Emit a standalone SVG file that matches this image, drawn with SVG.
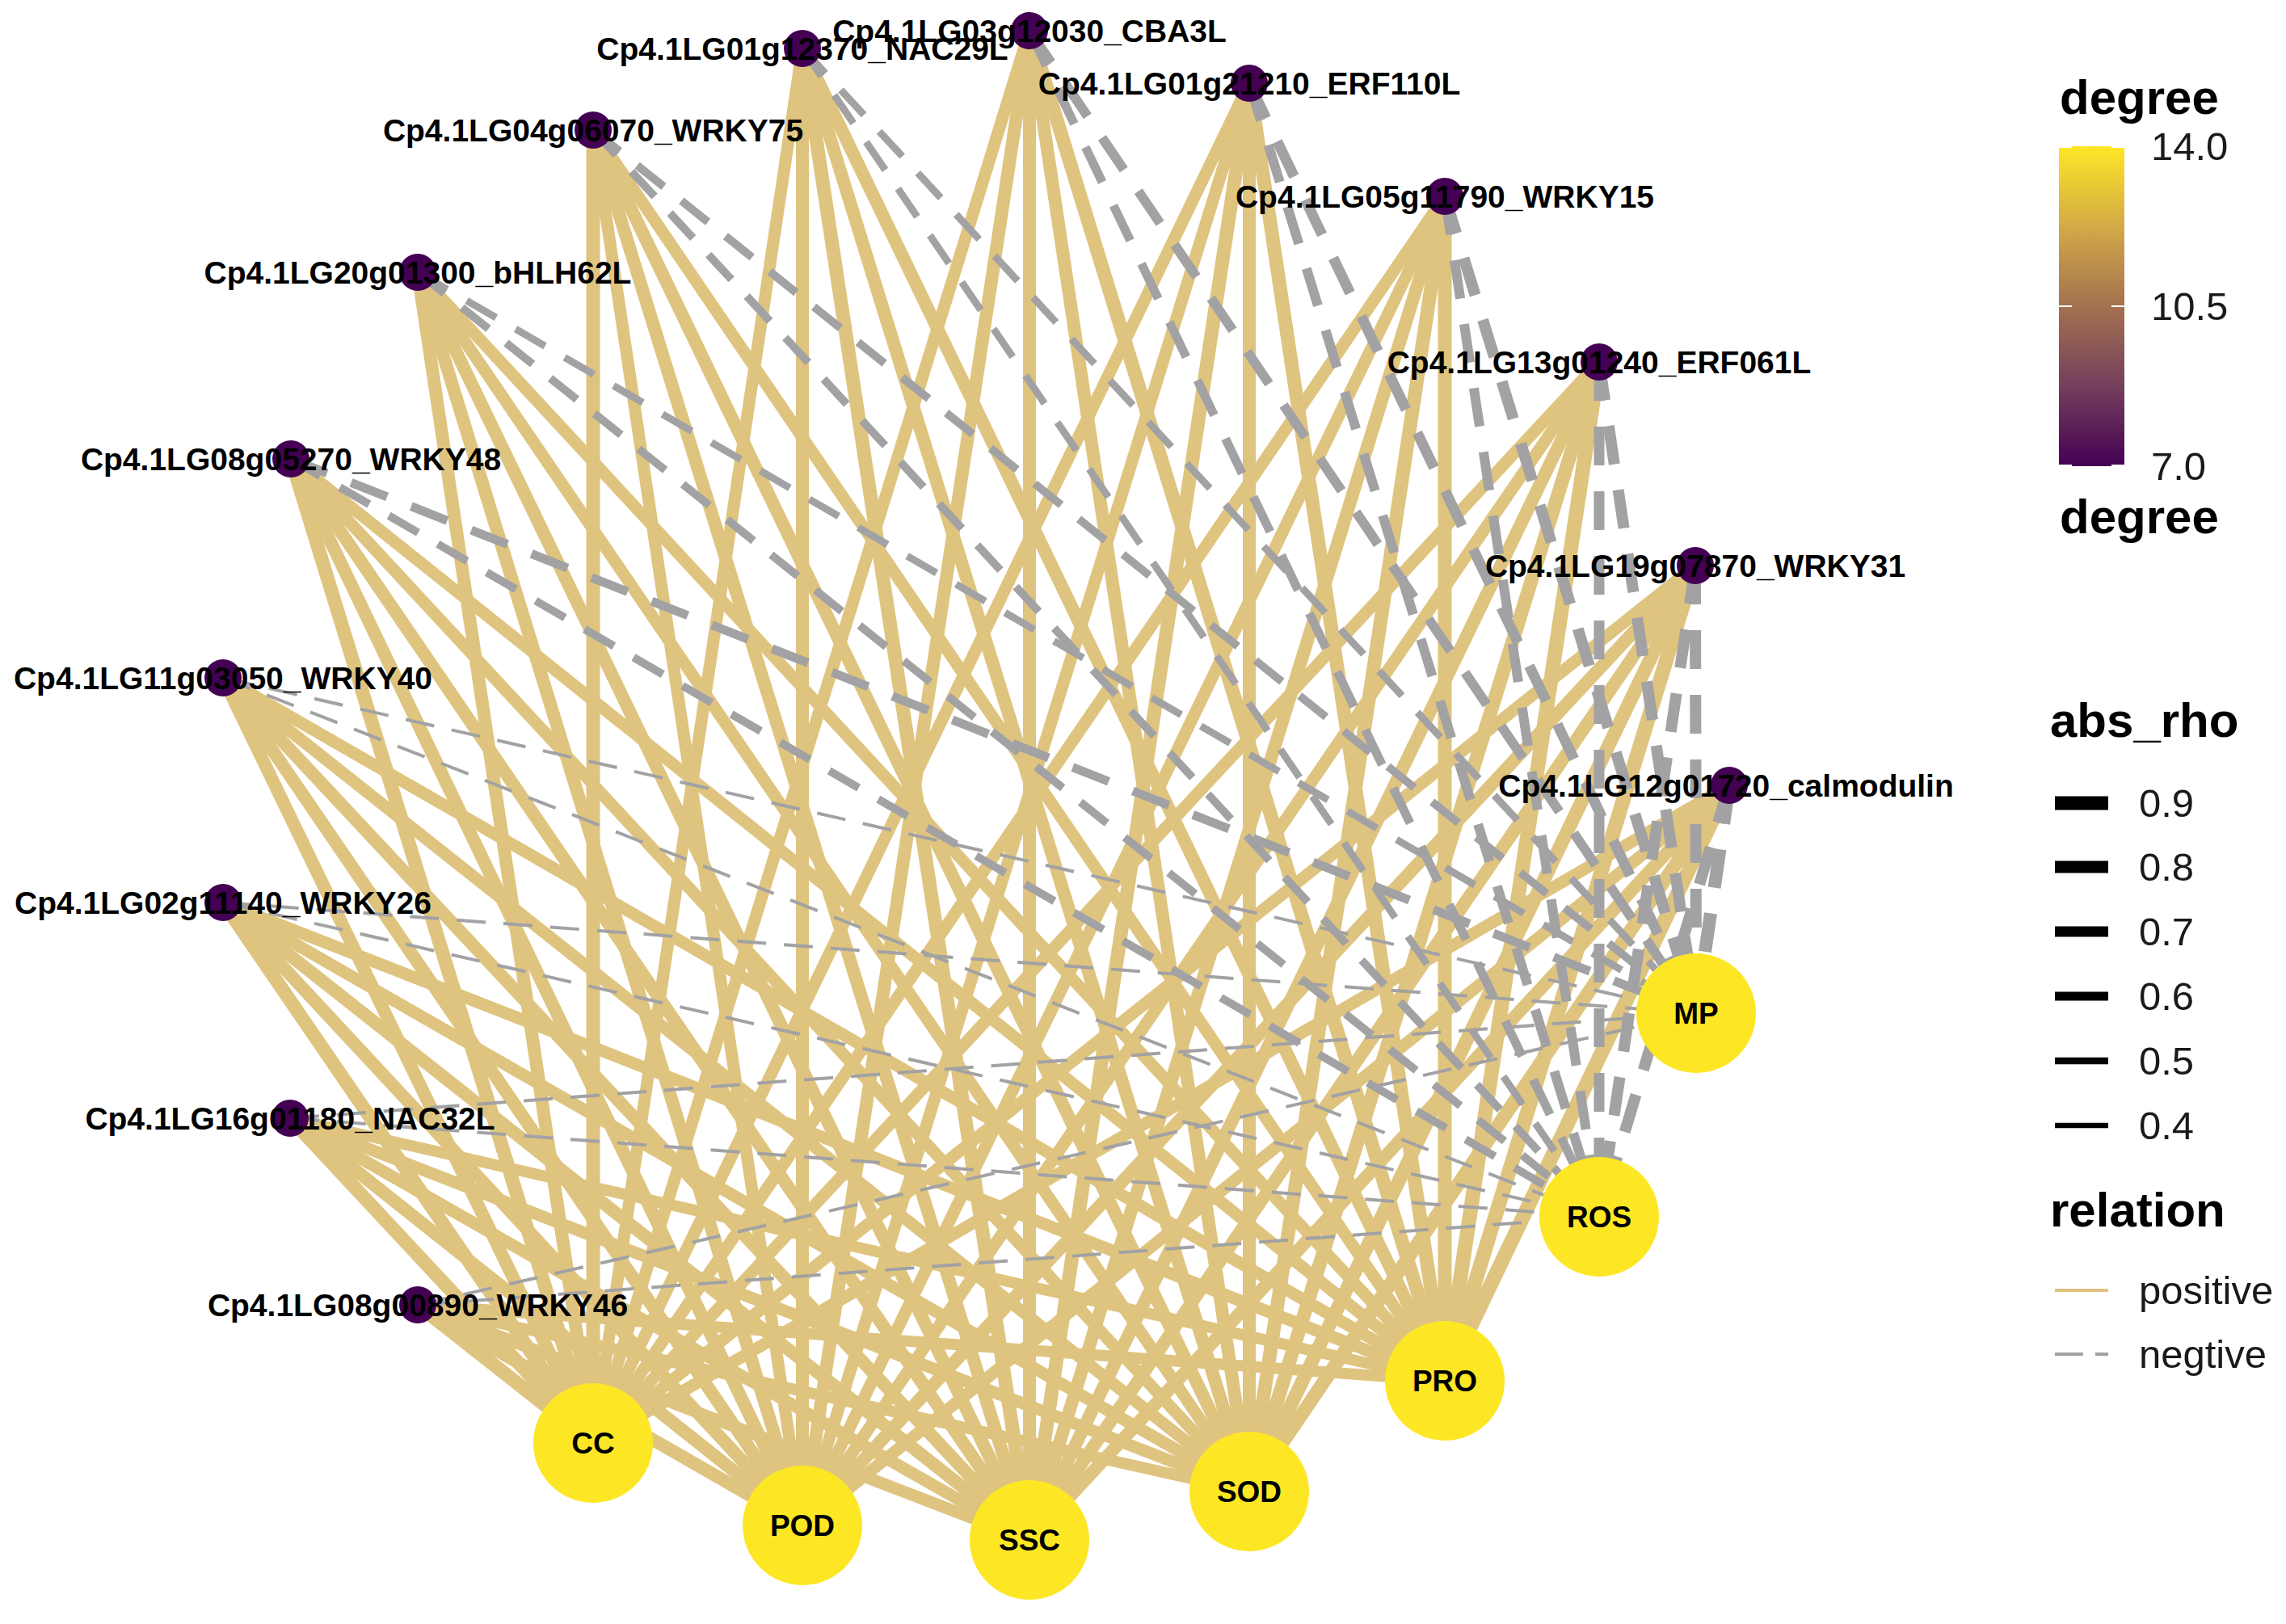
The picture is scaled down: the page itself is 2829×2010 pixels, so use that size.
<svg xmlns="http://www.w3.org/2000/svg" width="2829" height="2010" viewBox="0 0 2829 2010">
<defs>
<linearGradient id="degGrad" x1="0" y1="0" x2="0" y2="1">
<stop offset="0" stop-color="#FDE725"/>
<stop offset="0.25" stop-color="#D3AA47"/>
<stop offset="0.5" stop-color="#A3714F"/>
<stop offset="0.75" stop-color="#743F5C"/>
<stop offset="1" stop-color="#440154"/>
</linearGradient>
</defs>
<style>
.pos{stroke:#DFC47F;fill:none;stroke-linecap:butt}
.neg{stroke:#A2A2A4;fill:none;stroke-linecap:butt}
.dk{stroke-dasharray:48 32}
.dm{stroke-dasharray:42 28}
.dt{stroke-dasharray:36 22}
.w4{stroke-width:4}.w9{stroke-width:9}.w10{stroke-width:10}.w11{stroke-width:11}.w12{stroke-width:12}.w13{stroke-width:13}.w14{stroke-width:14}.w15{stroke-width:15}.w16{stroke-width:16}.w17{stroke-width:17}.w18{stroke-width:18}
.gene circle{fill:#440154}
.trait circle{fill:#FDE725}
.lbl{font-family:"Liberation Sans",Arial,sans-serif;font-weight:bold;fill:#000;text-anchor:middle}
.glbl{font-size:39px}
.tlbl{font-size:37px}
.ltitle{font-family:"Liberation Sans",Arial,sans-serif;font-weight:bold;font-size:60px;fill:#000}
.ltext{font-family:"Liberation Sans",Arial,sans-serif;font-size:49px;fill:#1a1a1a}
.key{stroke:#000;stroke-linecap:butt}
.tick{stroke:#fff;stroke-width:2}
</style>
<rect width="2829" height="2010" fill="#fff"/>
<g id="connectors">
<!-- positive edges: gene -> PRO, SOD, SSC, POD, CC -->
<line class="pos w16" x1="993" y1="60" x2="1788" y2="1709"/>
<line class="pos w16" x1="993" y1="60" x2="1546" y2="1846"/>
<line class="pos w17" x1="993" y1="60" x2="1274" y2="1906"/>
<line class="pos w16" x1="993" y1="60" x2="993" y2="1888"/>
<line class="pos w15" x1="993" y1="60" x2="734" y2="1786"/>
<line class="pos w17" x1="1274" y1="38" x2="1788" y2="1709"/>
<line class="pos w16" x1="1274" y1="38" x2="1546" y2="1846"/>
<line class="pos w16" x1="1274" y1="38" x2="1274" y2="1906"/>
<line class="pos w16" x1="1274" y1="38" x2="993" y2="1888"/>
<line class="pos w15" x1="1274" y1="38" x2="734" y2="1786"/>
<line class="pos w17" x1="1546" y1="103" x2="1788" y2="1709"/>
<line class="pos w16" x1="1546" y1="103" x2="1546" y2="1846"/>
<line class="pos w17" x1="1546" y1="103" x2="1274" y2="1906"/>
<line class="pos w15" x1="1546" y1="103" x2="993" y2="1888"/>
<line class="pos w15" x1="1546" y1="103" x2="734" y2="1786"/>
<line class="pos w15" x1="734" y1="161" x2="1788" y2="1709"/>
<line class="pos w16" x1="734" y1="161" x2="1546" y2="1846"/>
<line class="pos w16" x1="734" y1="161" x2="1274" y2="1906"/>
<line class="pos w15" x1="734" y1="161" x2="993" y2="1888"/>
<line class="pos w17" x1="734" y1="161" x2="734" y2="1786"/>
<line class="pos w17" x1="1788" y1="243" x2="1788" y2="1709"/>
<line class="pos w17" x1="1788" y1="243" x2="1546" y2="1846"/>
<line class="pos w16" x1="1788" y1="243" x2="1274" y2="1906"/>
<line class="pos w15" x1="1788" y1="243" x2="993" y2="1888"/>
<line class="pos w15" x1="1788" y1="243" x2="734" y2="1786"/>
<line class="pos w15" x1="517" y1="337" x2="1788" y2="1709"/>
<line class="pos w15" x1="517" y1="337" x2="1546" y2="1846"/>
<line class="pos w16" x1="517" y1="337" x2="1274" y2="1906"/>
<line class="pos w16" x1="517" y1="337" x2="993" y2="1888"/>
<line class="pos w16" x1="517" y1="337" x2="734" y2="1786"/>
<line class="pos w18" x1="1979" y1="448" x2="1788" y2="1709"/>
<line class="pos w17" x1="1979" y1="448" x2="1546" y2="1846"/>
<line class="pos w16" x1="1979" y1="448" x2="1274" y2="1906"/>
<line class="pos w15" x1="1979" y1="448" x2="993" y2="1888"/>
<line class="pos w15" x1="1979" y1="448" x2="734" y2="1786"/>
<line class="pos w15" x1="360" y1="568" x2="1788" y2="1709"/>
<line class="pos w15" x1="360" y1="568" x2="1546" y2="1846"/>
<line class="pos w16" x1="360" y1="568" x2="1274" y2="1906"/>
<line class="pos w16" x1="360" y1="568" x2="993" y2="1888"/>
<line class="pos w17" x1="360" y1="568" x2="734" y2="1786"/>
<line class="pos w18" x1="2098" y1="700" x2="1788" y2="1709"/>
<line class="pos w17" x1="2098" y1="700" x2="1546" y2="1846"/>
<line class="pos w16" x1="2098" y1="700" x2="1274" y2="1906"/>
<line class="pos w16" x1="2098" y1="700" x2="993" y2="1888"/>
<line class="pos w15" x1="2098" y1="700" x2="734" y2="1786"/>
<line class="pos w15" x1="276" y1="839" x2="1788" y2="1709"/>
<line class="pos w15" x1="276" y1="839" x2="1546" y2="1846"/>
<line class="pos w16" x1="276" y1="839" x2="1274" y2="1906"/>
<line class="pos w16" x1="276" y1="839" x2="993" y2="1888"/>
<line class="pos w16" x1="276" y1="839" x2="734" y2="1786"/>
<line class="pos w18" x1="2140" y1="972" x2="1788" y2="1709"/>
<line class="pos w17" x1="2140" y1="972" x2="1546" y2="1846"/>
<line class="pos w16" x1="2140" y1="972" x2="1274" y2="1906"/>
<line class="pos w15" x1="2140" y1="972" x2="993" y2="1888"/>
<line class="pos w15" x1="2140" y1="972" x2="734" y2="1786"/>
<line class="pos w15" x1="276" y1="1117" x2="1788" y2="1709"/>
<line class="pos w15" x1="276" y1="1117" x2="1546" y2="1846"/>
<line class="pos w16" x1="276" y1="1117" x2="1274" y2="1906"/>
<line class="pos w16" x1="276" y1="1117" x2="993" y2="1888"/>
<line class="pos w17" x1="276" y1="1117" x2="734" y2="1786"/>
<line class="pos w14" x1="359" y1="1384" x2="1788" y2="1709"/>
<line class="pos w15" x1="359" y1="1384" x2="1546" y2="1846"/>
<line class="pos w15" x1="359" y1="1384" x2="1274" y2="1906"/>
<line class="pos w16" x1="359" y1="1384" x2="993" y2="1888"/>
<line class="pos w17" x1="359" y1="1384" x2="734" y2="1786"/>
<line class="pos w14" x1="517" y1="1615" x2="1788" y2="1709"/>
<line class="pos w14" x1="517" y1="1615" x2="1546" y2="1846"/>
<line class="pos w15" x1="517" y1="1615" x2="1274" y2="1906"/>
<line class="pos w16" x1="517" y1="1615" x2="993" y2="1888"/>
<line class="pos w17" x1="517" y1="1615" x2="734" y2="1786"/>
<!-- negative edges: gene -> MP, ROS -->
<line class="neg w9 dm" x1="993" y1="60" x2="2099" y2="1254"/>
<line class="neg w9 dm" x1="993" y1="60" x2="1979" y2="1506"/>
<line class="neg w12 dk" x1="1274" y1="38" x2="2099" y2="1254"/>
<line class="neg w11 dk" x1="1274" y1="38" x2="1979" y2="1506"/>
<line class="neg w13 dk" x1="1546" y1="103" x2="2099" y2="1254"/>
<line class="neg w12 dk" x1="1546" y1="103" x2="1979" y2="1506"/>
<line class="neg w10 dm" x1="734" y1="161" x2="2099" y2="1254"/>
<line class="neg w10 dm" x1="734" y1="161" x2="1979" y2="1506"/>
<line class="neg w14 dk" x1="1788" y1="243" x2="2099" y2="1254"/>
<line class="neg w12 dk" x1="1788" y1="243" x2="1979" y2="1506"/>
<line class="neg w9 dm" x1="517" y1="337" x2="2099" y2="1254"/>
<line class="neg w10 dm" x1="517" y1="337" x2="1979" y2="1506"/>
<line class="neg w14 dk" x1="1979" y1="448" x2="2099" y2="1254"/>
<line class="neg w13 dk" x1="1979" y1="448" x2="1979" y2="1506"/>
<line class="neg w11 dk" x1="360" y1="568" x2="2099" y2="1254"/>
<line class="neg w10 dm" x1="360" y1="568" x2="1979" y2="1506"/>
<line class="neg w14 dk" x1="2098" y1="700" x2="2099" y2="1254"/>
<line class="neg w14 dk" x1="2098" y1="700" x2="1979" y2="1506"/>
<line class="neg w4 dt" x1="276" y1="839" x2="2099" y2="1254"/>
<line class="neg w4 dt" x1="276" y1="839" x2="1979" y2="1506"/>
<line class="neg w16 dk" x1="2140" y1="972" x2="2099" y2="1254"/>
<line class="neg w14 dk" x1="2140" y1="972" x2="1979" y2="1506"/>
<line class="neg w4 dt" x1="276" y1="1117" x2="2099" y2="1254"/>
<line class="neg w4 dt" x1="276" y1="1117" x2="1979" y2="1506"/>
<line class="neg w4 dt" x1="359" y1="1384" x2="2099" y2="1254"/>
<line class="neg w4 dt" x1="359" y1="1384" x2="1979" y2="1506"/>
<line class="neg w4 dt" x1="517" y1="1615" x2="2099" y2="1254"/>
<line class="neg w4 dt" x1="517" y1="1615" x2="1979" y2="1506"/>
</g>
<g id="node-NAC29L" class="gene"><circle cx="993" cy="60" r="23"/><text class="lbl glbl" x="993" y="74">Cp4.1LG01g12370_NAC29L</text></g>
<g id="node-CBA3L" class="gene"><circle cx="1274" cy="38" r="23"/><text class="lbl glbl" x="1274" y="52">Cp4.1LG03g12030_CBA3L</text></g>
<g id="node-ERF110L" class="gene"><circle cx="1546" cy="103" r="23"/><text class="lbl glbl" x="1546" y="117">Cp4.1LG01g21210_ERF110L</text></g>
<g id="node-WRKY75" class="gene"><circle cx="734" cy="161" r="23"/><text class="lbl glbl" x="734" y="175">Cp4.1LG04g06070_WRKY75</text></g>
<g id="node-WRKY15" class="gene"><circle cx="1788" cy="243" r="23"/><text class="lbl glbl" x="1788" y="257">Cp4.1LG05g11790_WRKY15</text></g>
<g id="node-bHLH62L" class="gene"><circle cx="517" cy="337" r="23"/><text class="lbl glbl" x="517" y="351">Cp4.1LG20g01300_bHLH62L</text></g>
<g id="node-ERF061L" class="gene"><circle cx="1979" cy="448" r="23"/><text class="lbl glbl" x="1979" y="462">Cp4.1LG13g01240_ERF061L</text></g>
<g id="node-WRKY48" class="gene"><circle cx="360" cy="568" r="23"/><text class="lbl glbl" x="360" y="582">Cp4.1LG08g05270_WRKY48</text></g>
<g id="node-WRKY31" class="gene"><circle cx="2098" cy="700" r="23"/><text class="lbl glbl" x="2098" y="714">Cp4.1LG19g07870_WRKY31</text></g>
<g id="node-WRKY40" class="gene"><circle cx="276" cy="839" r="23"/><text class="lbl glbl" x="276" y="853">Cp4.1LG11g03050_WRKY40</text></g>
<g id="node-calmodulin" class="gene"><circle cx="2140" cy="972" r="23"/><text class="lbl glbl" x="2136" y="986">Cp4.1LG12g01720_calmodulin</text></g>
<g id="node-WRKY26" class="gene"><circle cx="276" cy="1117" r="23"/><text class="lbl glbl" x="276" y="1131">Cp4.1LG02g11140_WRKY26</text></g>
<g id="node-NAC32L" class="gene"><circle cx="359" cy="1384" r="23"/><text class="lbl glbl" x="359" y="1398">Cp4.1LG16g01180_NAC32L</text></g>
<g id="node-WRKY46" class="gene"><circle cx="517" cy="1615" r="23"/><text class="lbl glbl" x="517" y="1629">Cp4.1LG08g00890_WRKY46</text></g>
<g id="node-MP" class="trait"><circle cx="2099" cy="1254" r="74"/><text class="lbl tlbl" x="2099" y="1267">MP</text></g>
<g id="node-ROS" class="trait"><circle cx="1979" cy="1506" r="74"/><text class="lbl tlbl" x="1979" y="1519">ROS</text></g>
<g id="node-PRO" class="trait"><circle cx="1788" cy="1709" r="74"/><text class="lbl tlbl" x="1788" y="1722">PRO</text></g>
<g id="node-SOD" class="trait"><circle cx="1546" cy="1846" r="74"/><text class="lbl tlbl" x="1546" y="1859">SOD</text></g>
<g id="node-SSC" class="trait"><circle cx="1274" cy="1906" r="74"/><text class="lbl tlbl" x="1274" y="1919">SSC</text></g>
<g id="node-POD" class="trait"><circle cx="993" cy="1888" r="74"/><text class="lbl tlbl" x="993" y="1901">POD</text></g>
<g id="node-CC" class="trait"><circle cx="734" cy="1786" r="74"/><text class="lbl tlbl" x="734" y="1799">CC</text></g>
<g id="legend-degree">
<text class="ltitle" x="2549" y="141">degree</text>
<rect x="2548" y="181" width="81" height="396" fill="url(#degGrad)"/>
<line class="tick" x1="2548" y1="182" x2="2564" y2="182"/><line class="tick" x1="2613" y1="182" x2="2629" y2="182"/>
<line class="tick" x1="2548" y1="379" x2="2564" y2="379"/><line class="tick" x1="2613" y1="379" x2="2629" y2="379"/>
<line class="tick" x1="2548" y1="576" x2="2564" y2="576"/><line class="tick" x1="2613" y1="576" x2="2629" y2="576"/>
<text class="ltext" x="2662" y="198">14.0</text>
<text class="ltext" x="2662" y="396">10.5</text>
<text class="ltext" x="2662" y="594">7.0</text>
<text class="ltitle" x="2549" y="660">degree</text>
</g>
<g id="legend-abs_rho">
<text class="ltitle" x="2537" y="912">abs_rho</text>
<line class="key" x1="2543" y1="994" x2="2609" y2="994" stroke-width="17"/>
<line class="key" x1="2543" y1="1073" x2="2609" y2="1073" stroke-width="15"/>
<line class="key" x1="2543" y1="1153" x2="2609" y2="1153" stroke-width="13"/>
<line class="key" x1="2543" y1="1233" x2="2609" y2="1233" stroke-width="11"/>
<line class="key" x1="2543" y1="1313" x2="2609" y2="1313" stroke-width="8.5"/>
<line class="key" x1="2543" y1="1393" x2="2609" y2="1393" stroke-width="6.5"/>
<text class="ltext" x="2647" y="1011">0.9</text>
<text class="ltext" x="2647" y="1090">0.8</text>
<text class="ltext" x="2647" y="1170">0.7</text>
<text class="ltext" x="2647" y="1250">0.6</text>
<text class="ltext" x="2647" y="1330">0.5</text>
<text class="ltext" x="2647" y="1410">0.4</text>
</g>
<g id="legend-relation">
<text class="ltitle" x="2537" y="1518">relation</text>
<line x1="2543" y1="1597" x2="2609" y2="1597" stroke="#DFC47F" stroke-width="4"/>
<line x1="2543" y1="1676" x2="2609" y2="1676" stroke="#A2A2A4" stroke-width="4" stroke-dasharray="35 15"/>
<text class="ltext" x="2647" y="1614">positive</text>
<text class="ltext" x="2647" y="1693">negtive</text>
</g>
</svg>
